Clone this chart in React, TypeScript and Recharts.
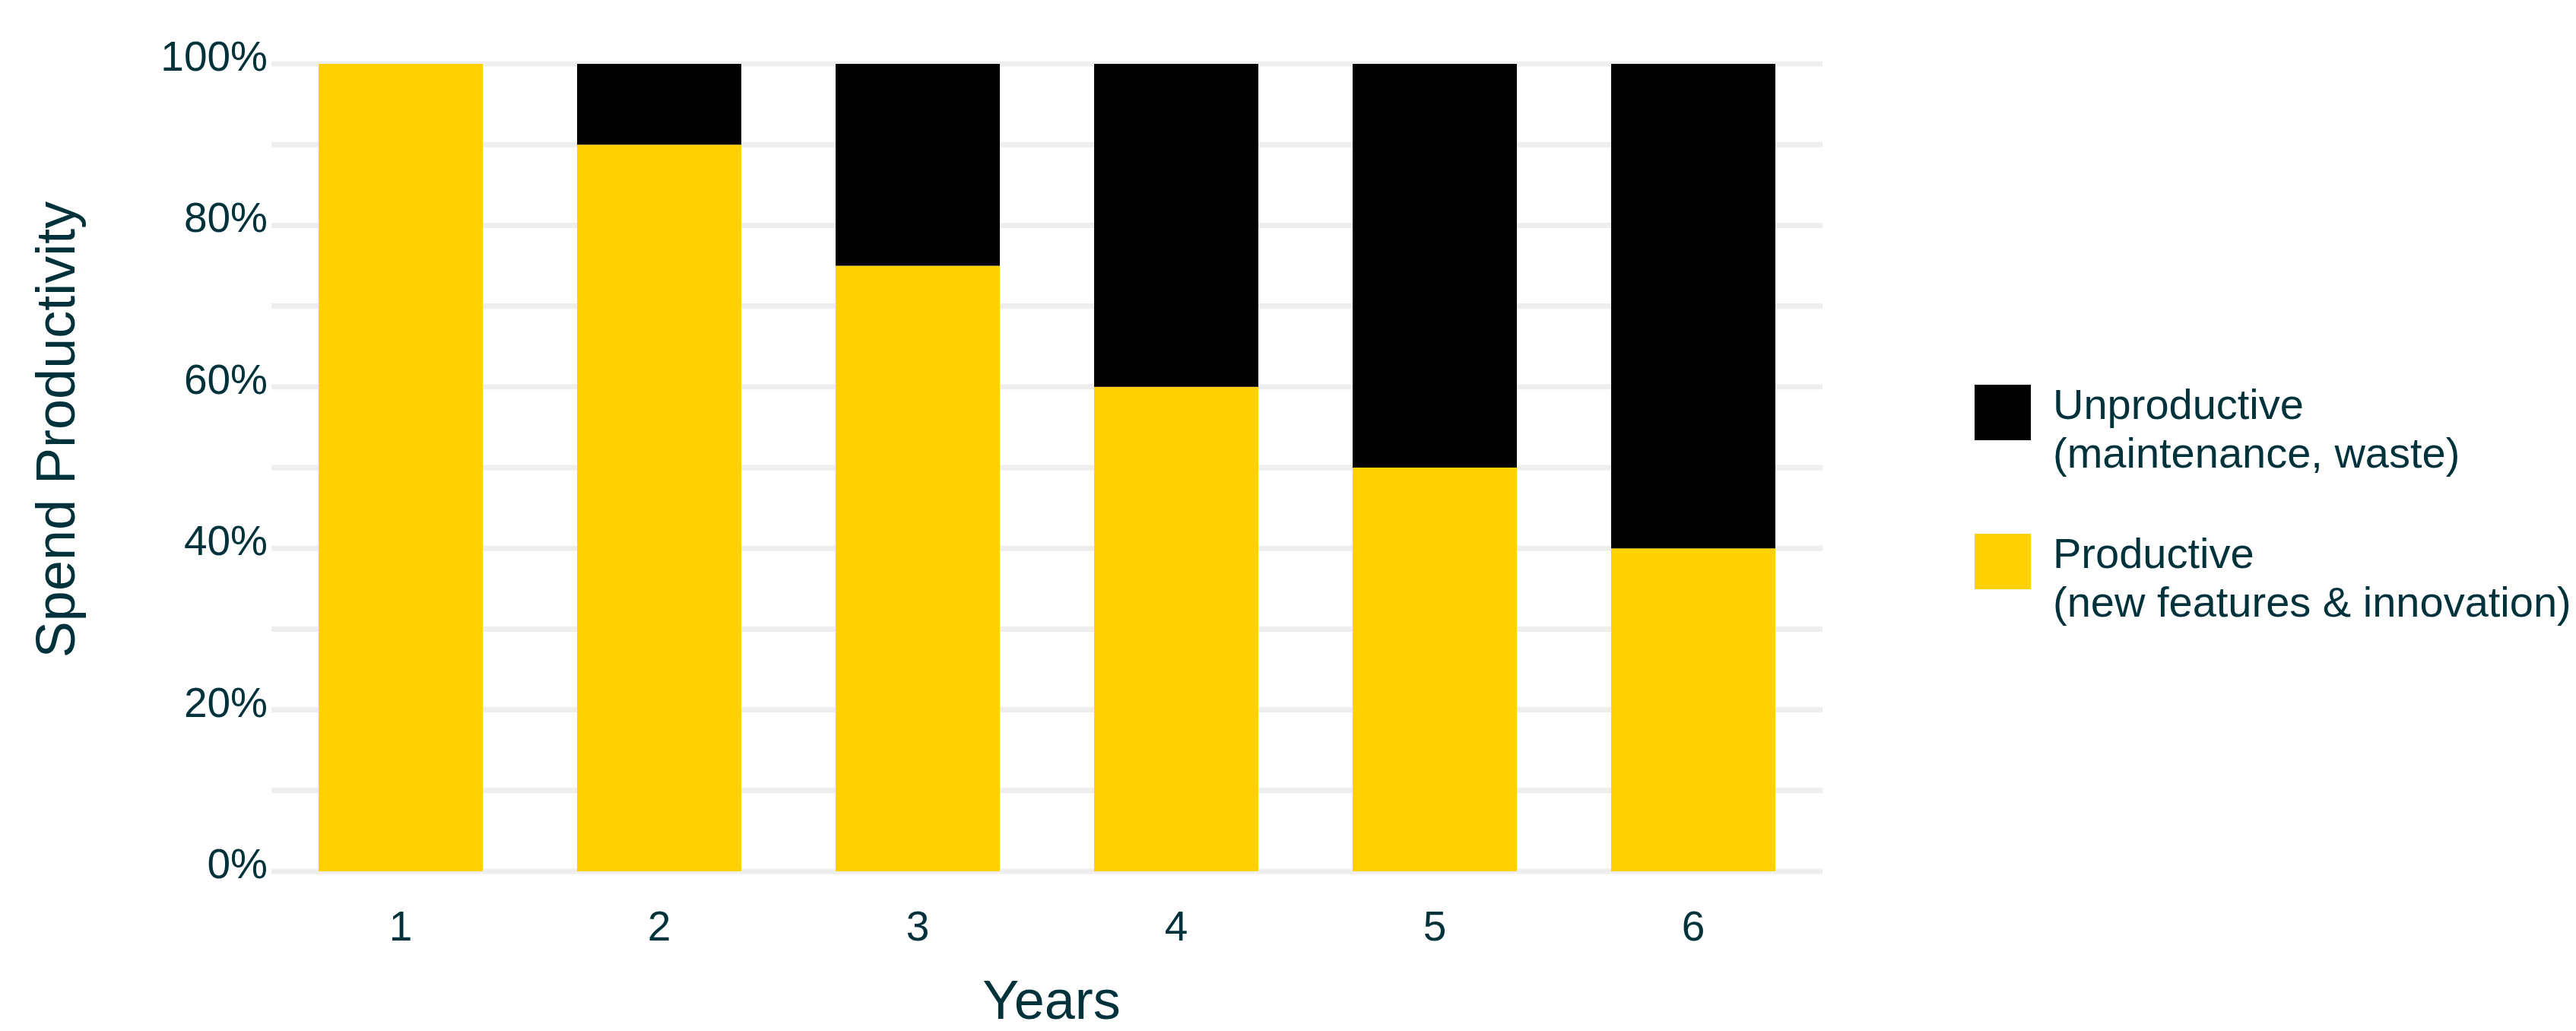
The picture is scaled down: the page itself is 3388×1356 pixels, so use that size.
import { BarChart, Bar, XAxis, YAxis, CartesianGrid, Legend, Label } from 'recharts'

const years = ['1', '2', '3', '4', '5', '6']
const productive = [100, 90, 75, 60, 50, 40]
const unproductive = [0, 10, 25, 40, 50, 60]
const yTicks = [0, 10, 20, 30, 40, 50, 60, 70, 80, 90, 100]

const seriesKeys = ['productive', 'unproductive']
const seriesNames = ['Productive', 'Unproductive']
const seriesNotes = ['(new features & innovation)', '(maintenance, waste)']

const data = years.map((year, i) => ({ year, productive: productive[i], unproductive: unproductive[i] }))

const FONT = '"Liberation Sans", Arial, Helvetica, sans-serif'
const INK = '#00323c'
const YELLOW = '#ffd100'
const BLACK = '#000000'

const YTick = ({ x, y, payload }: any) => {
  if (payload.value % 20 !== 0) return <g />
  return (
    <text x={x} y={y + 9} textAnchor="end" fontSize={55} fill={INK} fontFamily={FONT}>
      {payload.value}%
    </text>
  )
}

const XTick = ({ x, y, payload }: any) => (
  <text x={x} y={y + 91} textAnchor="middle" fontSize={55} fill={INK} fontFamily={FONT}>
    {payload.value}
  </text>
)

const XTitle = ({ viewBox }: any) => (
  <text x={viewBox.x + viewBox.width / 2 + 6} y={viewBox.y + 194} textAnchor="middle" fontSize={72} fill={INK} fontFamily={FONT}>
    Years
  </text>
)

const YTitle = ({ viewBox }: any) => {
  const cy = viewBox.y + viewBox.height / 2 - 50
  return (
    <text x={98} y={cy} transform={`rotate(-90, 98, ${cy})`} textAnchor="middle" fontSize={72} fill={INK} fontFamily={FONT}>
      Spend Productivity
    </text>
  )
}

const LegendBox = ({ payload }: any) => {
  const items = [...(payload || [])].reverse()
  return (
    <div style={{ fontFamily: FONT, color: INK, fontSize: 56, lineHeight: '64px' }}>
      {items.map((p: any) => {
        const i = seriesKeys.indexOf(p.dataKey)
        return (
          <div key={p.dataKey} style={{ display: 'flex', alignItems: 'flex-start', marginBottom: 68 }}>
            <div style={{ width: 74, height: 73, marginTop: 6, background: p.color, flexShrink: 0 }} />
            <div style={{ marginLeft: 29, whiteSpace: 'nowrap' }}>
              <div>{seriesNames[i]}</div>
              <div>{seriesNotes[i]}</div>
            </div>
          </div>
        )
      })}
    </div>
  )
}

export default function App() {
  return (
    <div style={{ width: 3388, height: 1356, background: '#fff' }}>
      <style>{'body{margin:0}'}</style>
      <BarChart width={3388} height={1356} data={data} margin={{ top: 84, right: 991, bottom: 0, left: 0 }}>
        <CartesianGrid vertical={false} stroke="#eeeeee" strokeWidth={7} />
        <XAxis dataKey="year" height={210} tickLine={false} axisLine={false} tickSize={0} tickMargin={0} tick={<XTick />}>
          <Label content={<XTitle />} />
        </XAxis>
        <YAxis
          width={357}
          domain={[0, 100]}
          ticks={yTicks}
          interval={0}
          tickLine={false}
          axisLine={false}
          tickSize={0}
          tickMargin={5}
          tick={<YTick />}
        >
          <Label content={<YTitle />} />
        </YAxis>
        <Bar dataKey="productive" name={seriesNames[0]} stackId="a" fill={YELLOW} barSize={216} isAnimationActive={false} />
        <Bar dataKey="unproductive" name={seriesNames[1]} stackId="a" fill={BLACK} barSize={216} isAnimationActive={false} />
        <Legend
          layout="vertical"
          align="center"
          verticalAlign="middle"
          content={<LegendBox />}
          wrapperStyle={{ left: 2597, top: 500, width: 790, height: 'auto' }}
        />
      </BarChart>
    </div>
  )
}
